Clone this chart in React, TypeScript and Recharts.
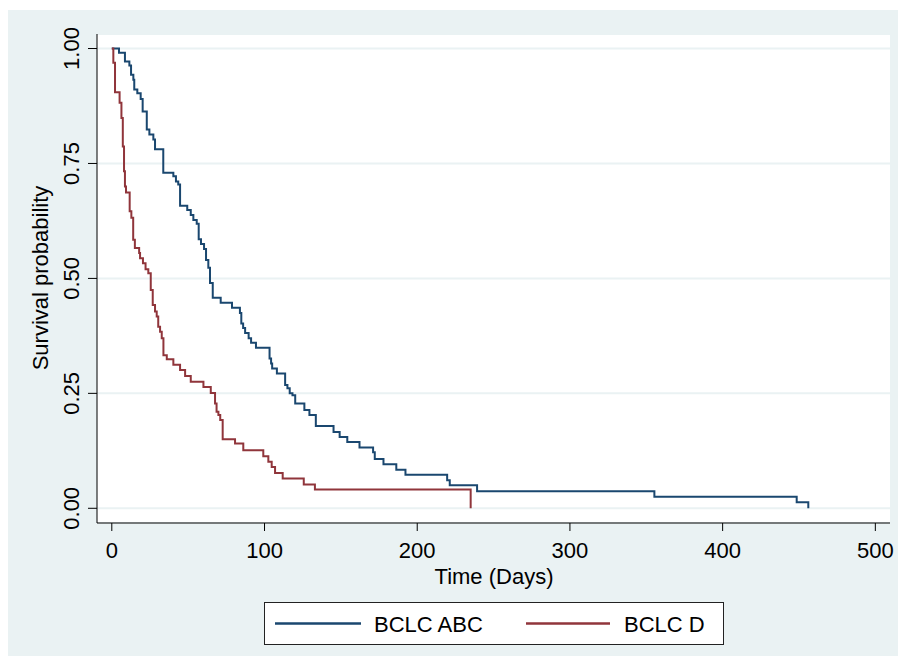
import React from "react";
import { LineChart, Line, XAxis, YAxis, CartesianGrid, Label } from "recharts";

// Kaplan-Meier step points (time in days, survival)
const abcTime = [
  0, 4.7, 8.6, 11.5, 12.6, 14.1, 14.7, 16.7, 18.9, 20.2, 22.9, 24.6, 27.2, 28.3,
  33.7, 40.3, 42.0, 43.5, 44.7, 49.4, 51.7, 53.4, 55.6, 56.9, 58.4, 60.4, 61.7,
  63.2, 64.3, 66.1, 71.3, 78.7, 83.9, 84.8, 86.0, 87.3, 89.6, 91.2, 94.4, 103.3,
  104.3, 105.0, 108.1, 113.5, 115.0, 116.5, 118.3, 120.1, 126.1, 129.4, 133.6,
  145.2, 149.2, 154.2, 162.2, 171.1, 172.2, 177.9, 186.3, 192.3, 219.6, 221.3,
  239.2, 355.3, 448.5, 456.1,
];
const abcSurv = [
  1.0, 0.991, 0.972, 0.963, 0.943, 0.932, 0.911, 0.903, 0.89, 0.863, 0.824,
  0.813, 0.802, 0.781, 0.73, 0.722, 0.711, 0.704, 0.658, 0.649, 0.638, 0.627,
  0.619, 0.585, 0.575, 0.564, 0.54, 0.523, 0.49, 0.458, 0.447, 0.436, 0.425,
  0.402, 0.392, 0.381, 0.37, 0.36, 0.349, 0.326, 0.315, 0.304, 0.293, 0.268,
  0.261, 0.25, 0.246, 0.228, 0.214, 0.203, 0.179, 0.166, 0.155, 0.144, 0.132,
  0.122, 0.107, 0.096, 0.084, 0.073, 0.061, 0.05, 0.037, 0.025, 0.013, 0,
];

const dTime = [
  0, 1.0, 2.1, 5.1, 6.3, 7.2, 8.0, 8.6, 9.3, 11.7, 12.8, 14.0, 15.1, 17.9, 18.5,
  20.4, 22.1, 23.9, 25.5, 26.8, 28.3, 29.4, 30.4, 31.6, 32.7, 33.8, 36.0, 40.3,
  44.7, 48.0, 51.7, 60.0, 64.8, 67.6, 68.6, 69.8, 71.0, 72.6, 80.7, 86.1, 99.2,
  102.5, 104.7, 106.9, 111.9, 125.7, 133.0, 235.0,
];
const dSurv = [
  1.0, 0.969, 0.905, 0.882, 0.849, 0.787, 0.733, 0.7, 0.687, 0.646, 0.632,
  0.584, 0.566, 0.555, 0.544, 0.533, 0.52, 0.511, 0.475, 0.442, 0.428, 0.417,
  0.395, 0.384, 0.37, 0.333, 0.324, 0.312, 0.301, 0.288, 0.275, 0.264, 0.251,
  0.228, 0.21, 0.203, 0.192, 0.15, 0.141, 0.126, 0.113, 0.101, 0.09, 0.077,
  0.065, 0.052, 0.041, 0,
];

const xTicks = [0, 100, 200, 300, 400, 500];
const yTicks = [0, 0.25, 0.5, 0.75, 1];
const seriesNames = ["BCLC ABC", "BCLC D"];

const abcData = abcTime.map((t, i) => ({ t, s: abcSurv[i] }));
const dData = dTime.map((t, i) => ({ t, s: dSurv[i] }));

const FONT = "'Liberation Sans', Arial, sans-serif";
const NAVY = "#1a476f";
const MAROON = "#90353b";
const PANEL = "#eaf2f3";

const YTick = (props: any) => {
  const { y, payload } = props;
  return (
    <text
      x={72}
      y={y}
      transform={`rotate(-90 72 ${y})`}
      textAnchor="middle"
      dominantBaseline="central"
      fontSize={22}
      fontFamily={FONT}
      fill="#000"
    >
      {payload.value.toFixed(2)}
    </text>
  );
};

export default function App() {
  return (
    <div
      style={{
        position: "absolute",
        left: 0,
        top: 0,
        width: 904,
        height: 665,
        background: "#fff",
        fontFamily: FONT,
      }}
    >
      <div
        style={{
          position: "absolute",
          left: 8,
          top: 10,
          width: 890,
          height: 646,
          background: PANEL,
        }}
      />
      <div style={{ position: "absolute", left: 0, top: 0 }}>
        <LineChart
          width={904}
          height={665}
          margin={{ top: 34, right: 14, left: 37, bottom: 112 }}
        >
          <CartesianGrid
            vertical={false}
            fill="#fff"
            stroke={PANEL}
            strokeWidth={2}
          />
          <XAxis
            dataKey="t"
            type="number"
            domain={[-9.7, 509.6]}
            ticks={xTicks}
            allowDataOverflow
            height={30}
            tickSize={8}
            tickMargin={11}
            stroke="#000"
            tick={{ fontSize: 22, fontFamily: FONT, fill: "#000" }}
          >
            <Label
              content={() => (
                <text
                  x={494}
                  y={584}
                  textAnchor="middle"
                  fontSize={22}
                  fontFamily={FONT}
                  fill="#000"
                >
                  Time (Days)
                </text>
              )}
            />
          </XAxis>
          <YAxis
            type="number"
            domain={[-0.032, 1.0316]}
            ticks={yTicks}
            allowDataOverflow
            width={60}
            tickSize={9}
            stroke="#000"
            tick={<YTick />}
          >
            <Label
              content={() => (
                <text
                  x={40}
                  y={278}
                  transform="rotate(-90 40 278)"
                  textAnchor="middle"
                  dominantBaseline="central"
                  fontSize={22}
                  fontFamily={FONT}
                  fill="#000"
                >
                  Survival probability
                </text>
              )}
            />
          </YAxis>
          <Line
            data={abcData}
            dataKey="s"
            name={seriesNames[0]}
            type="stepAfter"
            stroke={NAVY}
            strokeWidth={2}
            dot={false}
            isAnimationActive={false}
          />
          <Line
            data={dData}
            dataKey="s"
            name={seriesNames[1]}
            type="stepAfter"
            stroke={MAROON}
            strokeWidth={2}
            dot={false}
            isAnimationActive={false}
          />
        </LineChart>
      </div>
      <div
        style={{
          position: "absolute",
          left: 264,
          top: 602,
          width: 458,
          height: 41,
          background: "#fff",
          border: "1px solid #222",
        }}
      >
        <svg width={458} height={41} style={{ display: "block" }}>
          <line x1={10} x2={96} y1={20.5} y2={20.5} stroke={NAVY} strokeWidth={2.5} />
          <text x={109} y={28.5} fontSize={22} fontFamily={FONT} fill="#000">
            {seriesNames[0]}
          </text>
          <line x1={261} x2={345} y1={20.5} y2={20.5} stroke={MAROON} strokeWidth={2.5} />
          <text x={359} y={28.5} fontSize={22} fontFamily={FONT} fill="#000">
            {seriesNames[1]}
          </text>
        </svg>
      </div>
    </div>
  );
}
